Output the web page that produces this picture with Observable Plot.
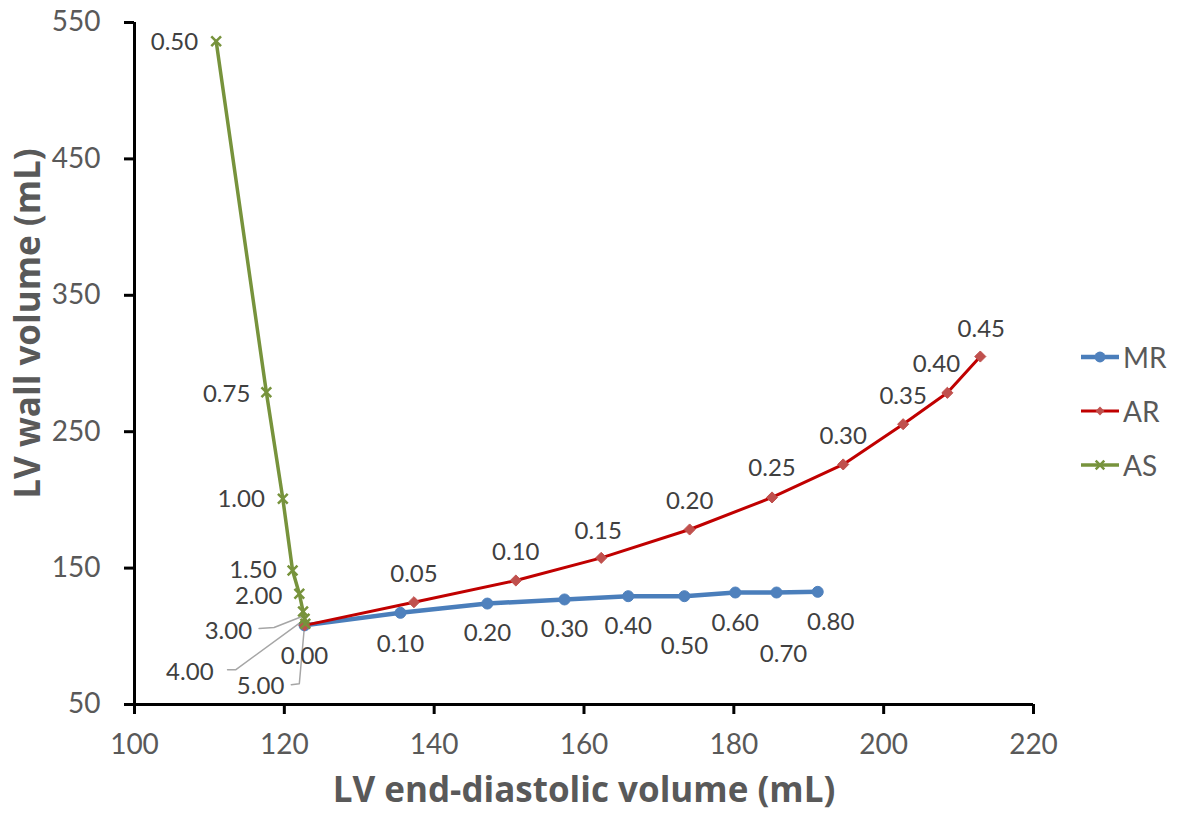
<!DOCTYPE html>
<html>
<head>
<meta charset="utf-8">
<script src="https://cdn.jsdelivr.net/npm/d3@7"></script>
<script src="https://cdn.jsdelivr.net/npm/@observablehq/plot@0.6"></script>
<style>
  html, body { margin: 0; padding: 0; background: #fff; }
  #wrap { position: relative; width: 1178px; height: 813px; font-family: Lato, "Open Sans", sans-serif; }
  #legend { position: absolute; left: 1080px; top: 340px; }
  .item { position: absolute; left: 0; height: 34px; display: flex; align-items: center; white-space: nowrap; }
  .item span { font-size: 28px; color: #595959; margin-left: 3px; }
</style>
</head>
<body>
<div id="wrap"><div id="legend"></div></div>
<script>
// ---- data ----
const xTicks = [100, 120, 140, 160, 180, 200, 220];
const yTicks = [50, 150, 250, 350, 450, 550];

const mrX = [122.7, 135.5, 147.1, 157.4, 165.9, 173.4, 180.2, 185.7, 191.2];
const mrY = [108.0, 117.2, 124.0, 127.0, 129.4, 129.4, 132.1, 132.1, 132.6];
const mrLabels = ["0.00", "0.10", "0.20", "0.30", "0.40", "0.50", "0.60", "0.70", "0.80"];

const arX = [122.7, 137.3, 150.9, 162.3, 174.1, 185.1, 194.6, 202.6, 208.5, 212.9];
const arY = [108.0, 125.0, 140.9, 157.5, 178.3, 201.8, 226.0, 255.5, 278.5, 305.1];
const arLabels = [null, "0.05", "0.10", "0.15", "0.20", "0.25", "0.30", "0.35", "0.40", "0.45"];

const asX = [110.9, 117.6, 119.8, 121.1, 122.0, 122.5, 122.7, 122.8];
const asY = [536.3, 279.0, 200.8, 148.2, 131.2, 118.2, 112.8, 109.2];
const asLabels = ["0.50", "0.75", "1.00", "1.50", "2.00", "3.00", "4.00", "5.00"];

const seriesNames = ["MR", "AR", "AS"];

// ---- layout / style (pixel offsets of data labels) ----
const W = 1178, H = 813;
const M = {left: 134, right: 145, top: 22, bottom: 109};
const mrDx = [0, 0, 0, 0, 0, 0, 0, 7, 13];
const mrDy = [31, 31, 30, 30, 30, 50, 31, 62, 30];
const arDx = [0, 0, 0, -3, 0, 0, 0, 0, -11, 1];
const arDy = [0, -28, -28, -27, -28, -29, -28, -28, -29, -27];
const asDx = [-18, -16, -18, -16, -17, -51, -91, -21];
const asDy = [1, 2, 1, 0, 3, 20, 53, 63];
// leader lines (index into AS series -> pixel polyline relative to point)
const leaders = [
  {i: 5, pts: [[-44, 17], [-29, 16], [-1, 5]]},
  {i: 6, pts: [[-77, 51], [-69, 51], [-2, 2]]},
  {i: 7, pts: [[-14, 61], [-6, 60], [-1, 4]]}
];

const colors = {MR: {line: "#4a7ebb", mark: "#4f81bd"}, AR: {line: "#c00000", mark: "#c0504d"}, AS: {line: "#77933c", mark: "#77933c"}};

const mr = mrX.map((x, i) => ({x, y: mrY[i], label: mrLabels[i], dx: mrDx[i], dy: mrDy[i]}));
const ar = arX.map((x, i) => ({x, y: arY[i], label: arLabels[i], dx: arDx[i], dy: arDy[i]}));
const as = asX.map((x, i) => ({x, y: asY[i], label: asLabels[i], dx: asDx[i], dy: asDy[i]}));

const xDom = [100, 220], yDom = [50, 550];
const kx = (W - M.left - M.right) / (xDom[1] - xDom[0]);
const ky = (H - M.top - M.bottom) / (yDom[1] - yDom[0]);

const leaderData = leaders.flatMap((l, k) => l.pts.map(([px, py]) => ({
  k, x: as[l.i].x + px / kx, y: as[l.i].y - py / ky
})));

const labelColor = "#404040";
const labelMarks = (data, anchor) => data.filter(d => d.label).map(d =>
  Plot.text([d], {x: "x", y: "y", text: "label", dx: d.dx, dy: d.dy, textAnchor: anchor,
    fontSize: 24, fill: labelColor}));

const titleFont = "'Open Sans', Lato, sans-serif";

const chart = Plot.plot({
  width: W, height: H,
  marginLeft: M.left, marginRight: M.right, marginTop: M.top, marginBottom: M.bottom,
  style: {fontFamily: "Lato, 'Open Sans', sans-serif", background: "white", overflow: "visible"},
  x: {domain: xDom},
  y: {domain: yDom},
  marks: [
    Plot.axisX({ticks: xTicks, tickSize: 10, tickPadding: 20, stroke: "black", strokeWidth: 3,
      fill: "#595959", fontSize: 28, label: null, tickFormat: d => String(d)}),
    Plot.axisY({ticks: yTicks, tickSize: 10, tickPadding: 24, stroke: "black", strokeWidth: 3,
      fill: "#595959", fontSize: 28, label: null, tickFormat: d => String(d)}),
    Plot.ruleX([xDom[0]], {stroke: "black", strokeWidth: 3}),
    Plot.ruleY([yDom[0]], {stroke: "black", strokeWidth: 3}),
    Plot.text(["LV end-diastolic volume (mL)"], {frameAnchor: "bottom", dy: 86, fontSize: 35,
      fontWeight: "bold", fill: "#595959", fontFamily: titleFont, textAnchor: "middle", lineAnchor: "middle"}),
    Plot.text(["LV wall volume (mL)"], {frameAnchor: "left", dx: -106, dy: -40, rotate: -90, fontSize: 35,
      fontWeight: "bold", fill: "#595959", fontFamily: titleFont, textAnchor: "middle", lineAnchor: "middle"}),
    // leader lines
    Plot.line(leaderData, {x: "x", y: "y", z: "k", stroke: "#a6a6a6", strokeWidth: 1.5}),
    // MR
    Plot.line(mr, {x: "x", y: "y", stroke: colors.MR.line, strokeWidth: 4.5}),
    Plot.dot(mr, {x: "x", y: "y", r: 5.5, fill: colors.MR.mark, stroke: colors.MR.mark, strokeWidth: 1}),
    // AR
    Plot.line(ar, {x: "x", y: "y", stroke: colors.AR.line, strokeWidth: 3}),
    Plot.dot(ar, {x: "x", y: "y", symbol: "diamond2", r: 5, fill: colors.AR.mark, stroke: colors.AR.mark, strokeWidth: 1}),
    // AS
    Plot.line(as, {x: "x", y: "y", stroke: colors.AS.line, strokeWidth: 3.5}),
    Plot.dot(as, {x: "x", y: "y", symbol: "times", r: 4.5, stroke: colors.AS.mark, strokeWidth: 2.5}),
    ...labelMarks(mr, "middle"),
    ...labelMarks(ar, "middle"),
    ...labelMarks(as, "end")
  ]
});
document.getElementById("wrap").prepend(chart);

// legend
const legend = document.getElementById("legend");
seriesNames.forEach((name, i) => {
  const item = document.createElement("div");
  item.className = "item";
  item.style.top = (i * 54) + "px";
  const c = colors[name];
  const sym = d3.symbol(name === "MR" ? d3.symbolCircle : name === "AR" ? d3.symbolDiamond2 : d3.symbolTimes,
    name === "MR" ? Math.PI * 30 : 50)();
  const sw = name === "MR" ? 4.5 : name === "AR" ? 3 : 3.5;
  const markAttrs = name === "AS" ? `fill="none" stroke="${c.mark}" stroke-width="2.5"` : `fill="${c.mark}"`;
  item.innerHTML = `<svg width="40" height="34"><line x1="1" x2="39" y1="17" y2="17" stroke="${c.line}" stroke-width="${sw}"/>` +
    `<path transform="translate(20,17)" d="${sym}" ${markAttrs}/></svg><span>${name}</span>`;
  legend.appendChild(item);
});
</script>
</body>
</html>
